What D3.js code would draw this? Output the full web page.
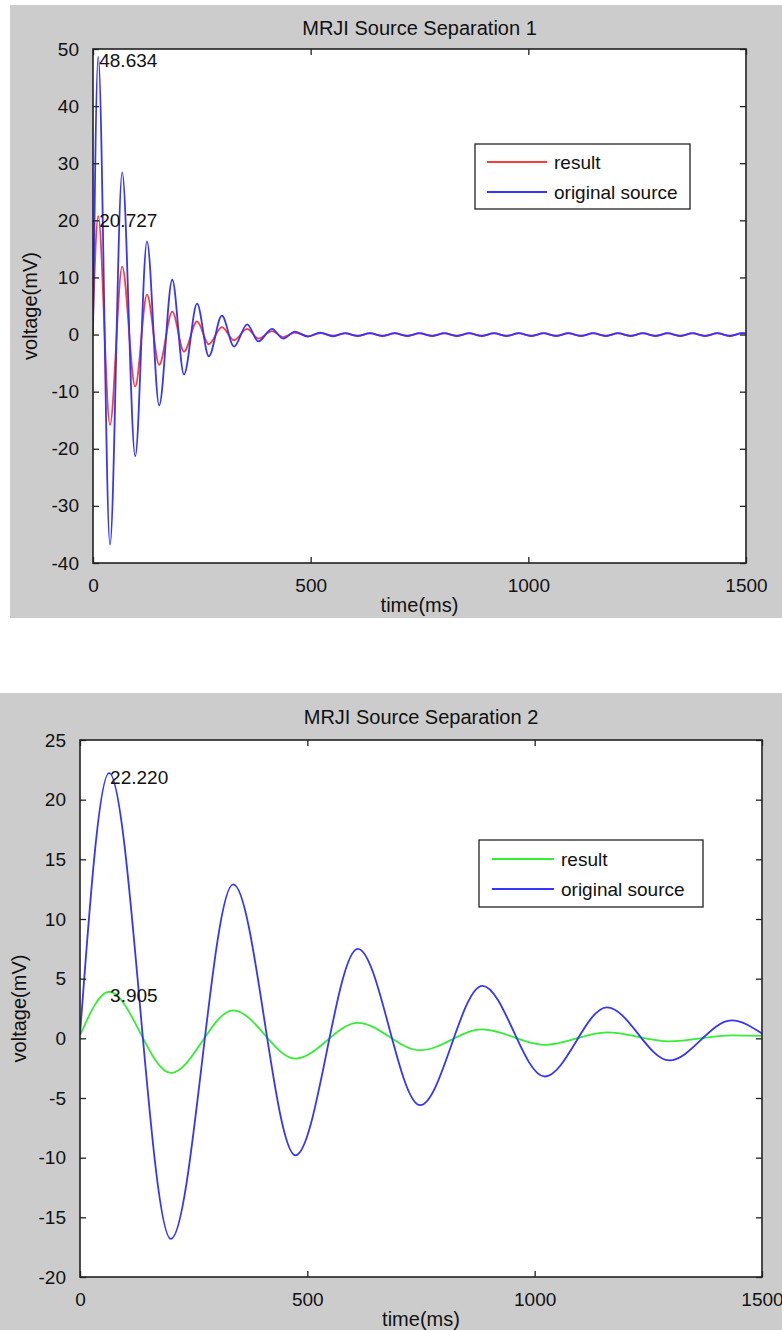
<!DOCTYPE html>
<html><head><meta charset="utf-8">
<script src="https://cdn.jsdelivr.net/npm/d3@7"></script>
<style>body{margin:0;background:#fff}svg{display:block}text{font-family:"Liberation Sans",Arial,sans-serif;fill:#111}</style>
</head><body><div id="chart"></div>
<script>
// ---------- Data (extrema of each oscillation) ----------
const time1 = [0,12,39,67,97,124,152,182,209,239,266,296,324,354,380,411,437,464,494,522,
  551,579,608,636,665,693,722,750,779,807,836,864,893,921,950,978,1007,1035,1064,1092,
  1121,1149,1178,1206,1235,1263,1292,1320,1349,1377,1406,1434,1463,1491,1500];
const source1 = [0,48.634,-36.8,28.4,-21.3,16.3,-12.4,9.6,-7.0,5.4,-3.8,3.3,-2.1,1.8,-1.2,1.0,-0.7,0.5,-0.35,0.35,
  -0.3,0.25,-0.25,0.25,-0.25,0.25,-0.25,0.25,-0.25,0.25,-0.25,0.25,-0.25,0.25,-0.25,0.25,-0.25,0.25,-0.25,0.25,
  -0.25,0.25,-0.25,0.25,-0.25,0.25,-0.25,0.25,-0.25,0.25,-0.25,0.25,-0.25,0.25,0.2];
const result1 = [3,20.727,-15.8,11.9,-9.1,7.0,-5.3,4.0,-3.0,2.3,-1.7,1.3,-1.0,1.0,-0.7,0.6,-0.45,0.35,-0.3,0.25,
  -0.2,0.2,-0.2,0.2,-0.2,0.2,-0.2,0.2,-0.2,0.2,-0.2,0.2,-0.2,0.2,-0.2,0.2,-0.2,0.2,-0.2,0.2,
  -0.2,0.2,-0.2,0.2,-0.2,0.2,-0.2,0.2,-0.2,0.2,-0.2,0.2,-0.2,0.2,0.15];

const time2 = [0,64,200,337,474,611,748,885,1022,1159,1296,1433,1500];
const source2 = [0.3,22.22,-16.8,12.9,-9.8,7.5,-5.6,4.4,-3.2,2.6,-1.85,1.5,0.4];
const result2 = [0.25,3.905,-2.9,2.35,-1.7,1.3,-1.0,0.75,-0.55,0.5,-0.25,0.25,0.2];

const xTicks = [0,500,1000,1500];
const yTicks1 = [-40,-30,-20,-10,0,10,20,30,40,50];
const yTicks2 = [-20,-15,-10,-5,0,5,10,15,20,25];
const titles = ["MRJI Source Separation 1","MRJI Source Separation 2"];
const legendLabels = ["result","original source"];
const labels1 = [{t:12,v:48.634,txt:"48.634"},{t:12,v:20.727,txt:"20.727"}];
const labels2 = [{t:64,v:22.22,txt:"22.220"},{t:64,v:3.905,txt:"3.905"}];

// ---------- Drawing ----------
const W=782,H=1330;
const svg=d3.select("#chart").append("svg").attr("width",W).attr("height",H);
svg.append("rect").attr("width",W).attr("height",H).attr("fill","#fff");

const panels=[
 {bg:[10,5,772,613],l:93,t:49,r:746,b:563,yd:[-40,50],yt:yTicks1,time:time1,res:result1,src:source1,
  resColor:"#ff3a3a",title:titles[0],titleY:35,xlabY:612,ylabX:37,leg:[475,144,215,65],legLine:[487,547,554],legY:[162,192],
  ann:labels1},
 {bg:[0,693,782,637],l:80,t:740,r:762,b:1277,yd:[-20,25],yt:yTicks2,time:time2,res:result2,src:source2,
  resColor:"#33ee33",title:titles[1],titleY:724,xlabY:1326,ylabX:26,leg:[479,840,224,67],legLine:[492,554,561],legY:[859,889],
  ann:labels2}
];

panels.forEach((p,i)=>{
  const g=svg.append("g");
  g.append("rect").attr("x",p.bg[0]).attr("y",p.bg[1]).attr("width",p.bg[2]).attr("height",p.bg[3]).attr("fill","#cccccc");
  g.append("rect").attr("x",p.l).attr("y",p.t).attr("width",p.r-p.l).attr("height",p.b-p.t).attr("fill","#fff");
  const x=d3.scaleLinear().domain([0,1500]).range([p.l,p.r]);
  const y=d3.scaleLinear().domain(p.yd).range([p.b,p.t]);
  const cid="clip"+i;
  g.append("clipPath").attr("id",cid).append("rect").attr("x",p.l).attr("y",p.t).attr("width",p.r-p.l).attr("height",p.b-p.t);
  const line=d3.line().x(d=>x(d[0])).y(d=>y(d[1])).curve(d3.curveMonotoneX);
  const resData=p.time.map((t,k)=>[t,p.res[k]]);
  const srcData=p.time.map((t,k)=>[t,p.src[k]]);
  const lg=g.append("g").attr("clip-path",`url(#${cid})`);
  lg.append("path").attr("d",line(resData)).attr("fill","none").attr("stroke",p.resColor).attr("stroke-width",1.8);
  lg.append("path").attr("d",line(srcData)).attr("fill","none").attr("stroke","#3535ff").attr("stroke-width",1.8);

  // axes (inward ticks on all four sides, MATLAB style)
  const tl=6, fmt=d=>String(d);
  const axL=d3.axisLeft(y).tickValues(p.yt).tickFormat(fmt).tickSizeInner(-tl).tickSizeOuter(0).tickPadding(tl+8);
  const axR=d3.axisRight(y).tickValues(p.yt).tickSizeInner(-tl).tickSizeOuter(0).tickFormat("");
  const axB=d3.axisBottom(x).tickValues(xTicks).tickFormat(fmt).tickSizeInner(-tl).tickSizeOuter(0).tickPadding(tl+10);
  const axT=d3.axisTop(x).tickValues(xTicks).tickSizeInner(-tl).tickSizeOuter(0).tickFormat("");
  const style=s=>{s.select(".domain").remove();s.selectAll("line").attr("stroke","#222").attr("stroke-width",1.3);
    s.selectAll("text").style("font-family","'Liberation Sans',Arial,sans-serif").style("font-size","19px").attr("fill","#1a1a1a");};
  g.append("g").attr("transform",`translate(${p.l},0)`).call(axL).call(style);
  g.append("g").attr("transform",`translate(${p.r},0)`).call(axR).call(style);
  g.append("g").attr("transform",`translate(0,${p.b})`).call(axB).call(style);
  g.append("g").attr("transform",`translate(0,${p.t})`).call(axT).call(style);
  g.append("rect").attr("x",p.l).attr("y",p.t).attr("width",p.r-p.l).attr("height",p.b-p.t)
   .attr("fill","none").attr("stroke","#222").attr("stroke-width",1.6);

  // annotations
  p.ann.forEach(a=>{
    g.append("text").attr("x",x(a.t)+1).attr("y",y(a.v)+4).attr("dy","0.35em").attr("font-size",19).text(a.txt);
  });

  // title / labels
  g.append("text").attr("x",(p.l+p.r)/2).attr("y",p.titleY).attr("text-anchor","middle").attr("font-size",20).text(p.title);
  g.append("text").attr("x",(p.l+p.r)/2).attr("y",p.xlabY).attr("text-anchor","middle").attr("font-size",20).text("time(ms)");
  g.append("text").attr("transform",`translate(${p.ylabX},${(p.t+p.b)/2}) rotate(-90)`).attr("text-anchor","middle").attr("font-size",20).text("voltage(mV)");

  // legend
  const L=p.leg;
  g.append("rect").attr("x",L[0]).attr("y",L[1]).attr("width",L[2]).attr("height",L[3]).attr("fill","#fff").attr("stroke","#222").attr("stroke-width",1.3);
  [p.resColor,"#3535ff"].forEach((c,k)=>{
    g.append("line").attr("x1",p.legLine[0]).attr("x2",p.legLine[1]).attr("y1",p.legY[k]).attr("y2",p.legY[k]).attr("stroke",c).attr("stroke-width",1.8);
    g.append("text").attr("x",p.legLine[2]).attr("y",p.legY[k]).attr("dy","0.35em").attr("font-size",19).text(legendLabels[k]);
  });
});
</script></body></html>
